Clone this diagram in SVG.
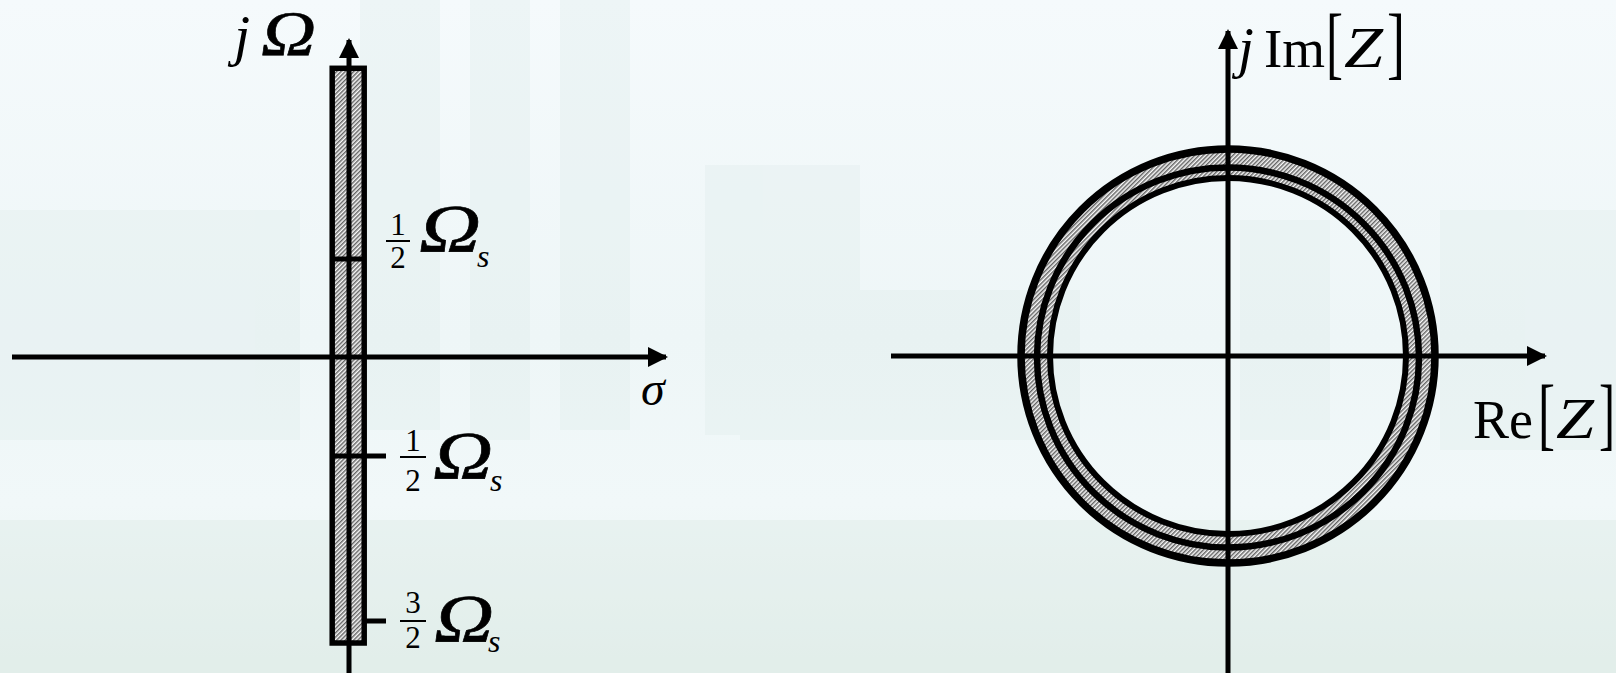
<svg xmlns="http://www.w3.org/2000/svg" width="1616" height="673" viewBox="0 0 1616 673">
  <defs>
    <linearGradient id="bg" x1="0" y1="0" x2="0" y2="1">
      <stop offset="0" stop-color="#f5fafc"/>
      <stop offset="0.5" stop-color="#eef6f7"/>
      <stop offset="0.75" stop-color="#f1f8f9"/>
      <stop offset="1" stop-color="#e6f1ee"/>
    </linearGradient>
    <pattern id="hatch" patternUnits="userSpaceOnUse" width="3" height="3" patternTransform="rotate(45)">
      <rect width="3" height="3" fill="#f8f8f8"/>
      <line x1="0.8" y1="0" x2="0.8" y2="3" stroke="#333" stroke-width="1.1"/>
    </pattern>
    <marker id="arrow" viewBox="0 0 10 10" refX="9" refY="5" markerWidth="4" markerHeight="4" markerUnits="strokeWidth" orient="auto">
      <path d="M0,0 L10,5 L0,10 Z" fill="#000"/>
    </marker>
    <style>
      .ax { stroke:#000; stroke-width:5; fill:none; }
      .bk { stroke:#000; fill:none; }
      .tk { stroke:#000; stroke-width:5; }
      .serif { font-family:"Liberation Serif","Times New Roman",serif; fill:#000; }
      .it { font-style:italic; }
      .om { font-family:"Liberation Serif","Times New Roman",serif; font-style:italic; fill:#000; stroke:#000; stroke-width:0.6; }
    </style>
  </defs>

  <rect id="background" x="0" y="0" width="1616" height="673" fill="url(#bg)"/>
  <g id="scenery" fill="#dfeceb" opacity="0.35">
    <rect x="360" y="0" width="80" height="430"/>
    <rect x="470" y="0" width="60" height="440"/>
    <rect x="560" y="0" width="70" height="430"/>
    <rect x="705" y="165" width="155" height="270"/>
    <rect x="740" y="290" width="340" height="150"/>
    <rect x="1240" y="220" width="90" height="220"/>
    <rect x="1440" y="210" width="176" height="240"/>
    <rect x="0" y="210" width="300" height="230"/>
    <rect x="0" y="520" width="1616" height="153" fill="#d9e8e3"/>
  </g>

  <g id="left-plane">
    <g id="strip">
      <rect x="332.2" y="68.3" width="32" height="574.7" fill="url(#hatch)" stroke="#000" stroke-width="5.5"/>
    </g>
    <g id="connectors-left">
      <line class="ax" x1="349" y1="673" x2="349" y2="40" marker-end="url(#arrow)"/>
      <line class="ax" x1="12" y1="357" x2="666" y2="357" marker-end="url(#arrow)"/>
      <line class="tk" x1="330" y1="259" x2="366" y2="259"/>
      <line class="tk" x1="330" y1="456" x2="386" y2="456"/>
      <line class="tk" x1="364" y1="621" x2="386" y2="621"/>
    </g>
    <g id="label-jOmega">
      <text class="serif it" x="234" y="55" font-size="58">j</text>
      <text class="om" x="261" y="55" font-size="64" textLength="55" lengthAdjust="spacingAndGlyphs">Ω</text>
    </g>
    <g id="label-sigma">
      <text class="serif it" x="641" y="405" font-size="48">σ</text>
    </g>
    <g id="label-half-upper">
      <text class="serif" x="398" y="235" font-size="31" text-anchor="middle">1</text>
      <line x1="386" y1="241" x2="410" y2="241" stroke="#000" stroke-width="2"/>
      <text class="serif" x="398" y="268" font-size="31" text-anchor="middle">2</text>
      <text class="om" x="419" y="251" font-size="68" textLength="62" lengthAdjust="spacingAndGlyphs">Ω</text>
      <text class="serif it" x="477" y="267" font-size="32">s</text>
    </g>
    <g id="label-half-lower">
      <text class="serif" x="413" y="451" font-size="31" text-anchor="middle">1</text>
      <line x1="400" y1="457" x2="426" y2="457" stroke="#000" stroke-width="2"/>
      <text class="serif" x="413" y="491" font-size="31" text-anchor="middle">2</text>
      <text class="om" x="433" y="478" font-size="68" textLength="60" lengthAdjust="spacingAndGlyphs">Ω</text>
      <text class="serif it" x="490" y="491" font-size="32">s</text>
    </g>
    <g id="label-threehalf">
      <text class="serif" x="413" y="613" font-size="31" text-anchor="middle">3</text>
      <line x1="400" y1="621" x2="426" y2="621" stroke="#000" stroke-width="2"/>
      <text class="serif" x="413" y="648" font-size="31" text-anchor="middle">2</text>
      <text class="om" x="434" y="641" font-size="68" textLength="60" lengthAdjust="spacingAndGlyphs">Ω</text>
      <text class="serif it" x="488" y="652" font-size="32">s</text>
    </g>
  </g>

  <g id="right-plane">
    <g id="rings">
      <path fill="url(#hatch)" fill-rule="evenodd" d="M1021,356 a207,207 0 1,0 414,0 a207,207 0 1,0 -414,0 Z M1050,356 a178,178 0 1,0 356,0 a178,178 0 1,0 -356,0 Z"/>
      <circle class="bk" cx="1228" cy="356" r="207" stroke-width="7.5"/>
      <ellipse class="bk" cx="1228" cy="357.5" rx="191" ry="190" stroke-width="6.5"/>
      <circle class="bk" cx="1228" cy="356" r="178" stroke-width="6"/>
    </g>
    <g id="connectors-right">
      <line class="ax" x1="1228" y1="673" x2="1228" y2="31" marker-end="url(#arrow)"/>
      <line class="ax" x1="891" y1="356" x2="1545" y2="356" marker-end="url(#arrow)"/>
    </g>
    <g id="label-im">
      <text class="serif it" x="1238" y="67" font-size="57">j</text>
      <text class="serif" x="1264" y="67" font-size="55">Im</text>
      <text class="serif" x="1326" y="69" font-size="80" textLength="17" lengthAdjust="spacingAndGlyphs">[</text>
      <text class="serif it" x="1344" y="67" font-size="58" textLength="39" lengthAdjust="spacingAndGlyphs">Z</text>
      <text class="serif" x="1387" y="69" font-size="80" textLength="18" lengthAdjust="spacingAndGlyphs">]</text>
    </g>
    <g id="label-re">
      <text class="serif" x="1473" y="438" font-size="54">Re</text>
      <text class="serif" x="1538" y="440" font-size="80" textLength="17" lengthAdjust="spacingAndGlyphs">[</text>
      <text class="serif it" x="1556" y="438" font-size="58" textLength="38" lengthAdjust="spacingAndGlyphs">Z</text>
      <text class="serif" x="1599" y="440" font-size="80" textLength="16" lengthAdjust="spacingAndGlyphs">]</text>
    </g>
  </g>
</svg>
